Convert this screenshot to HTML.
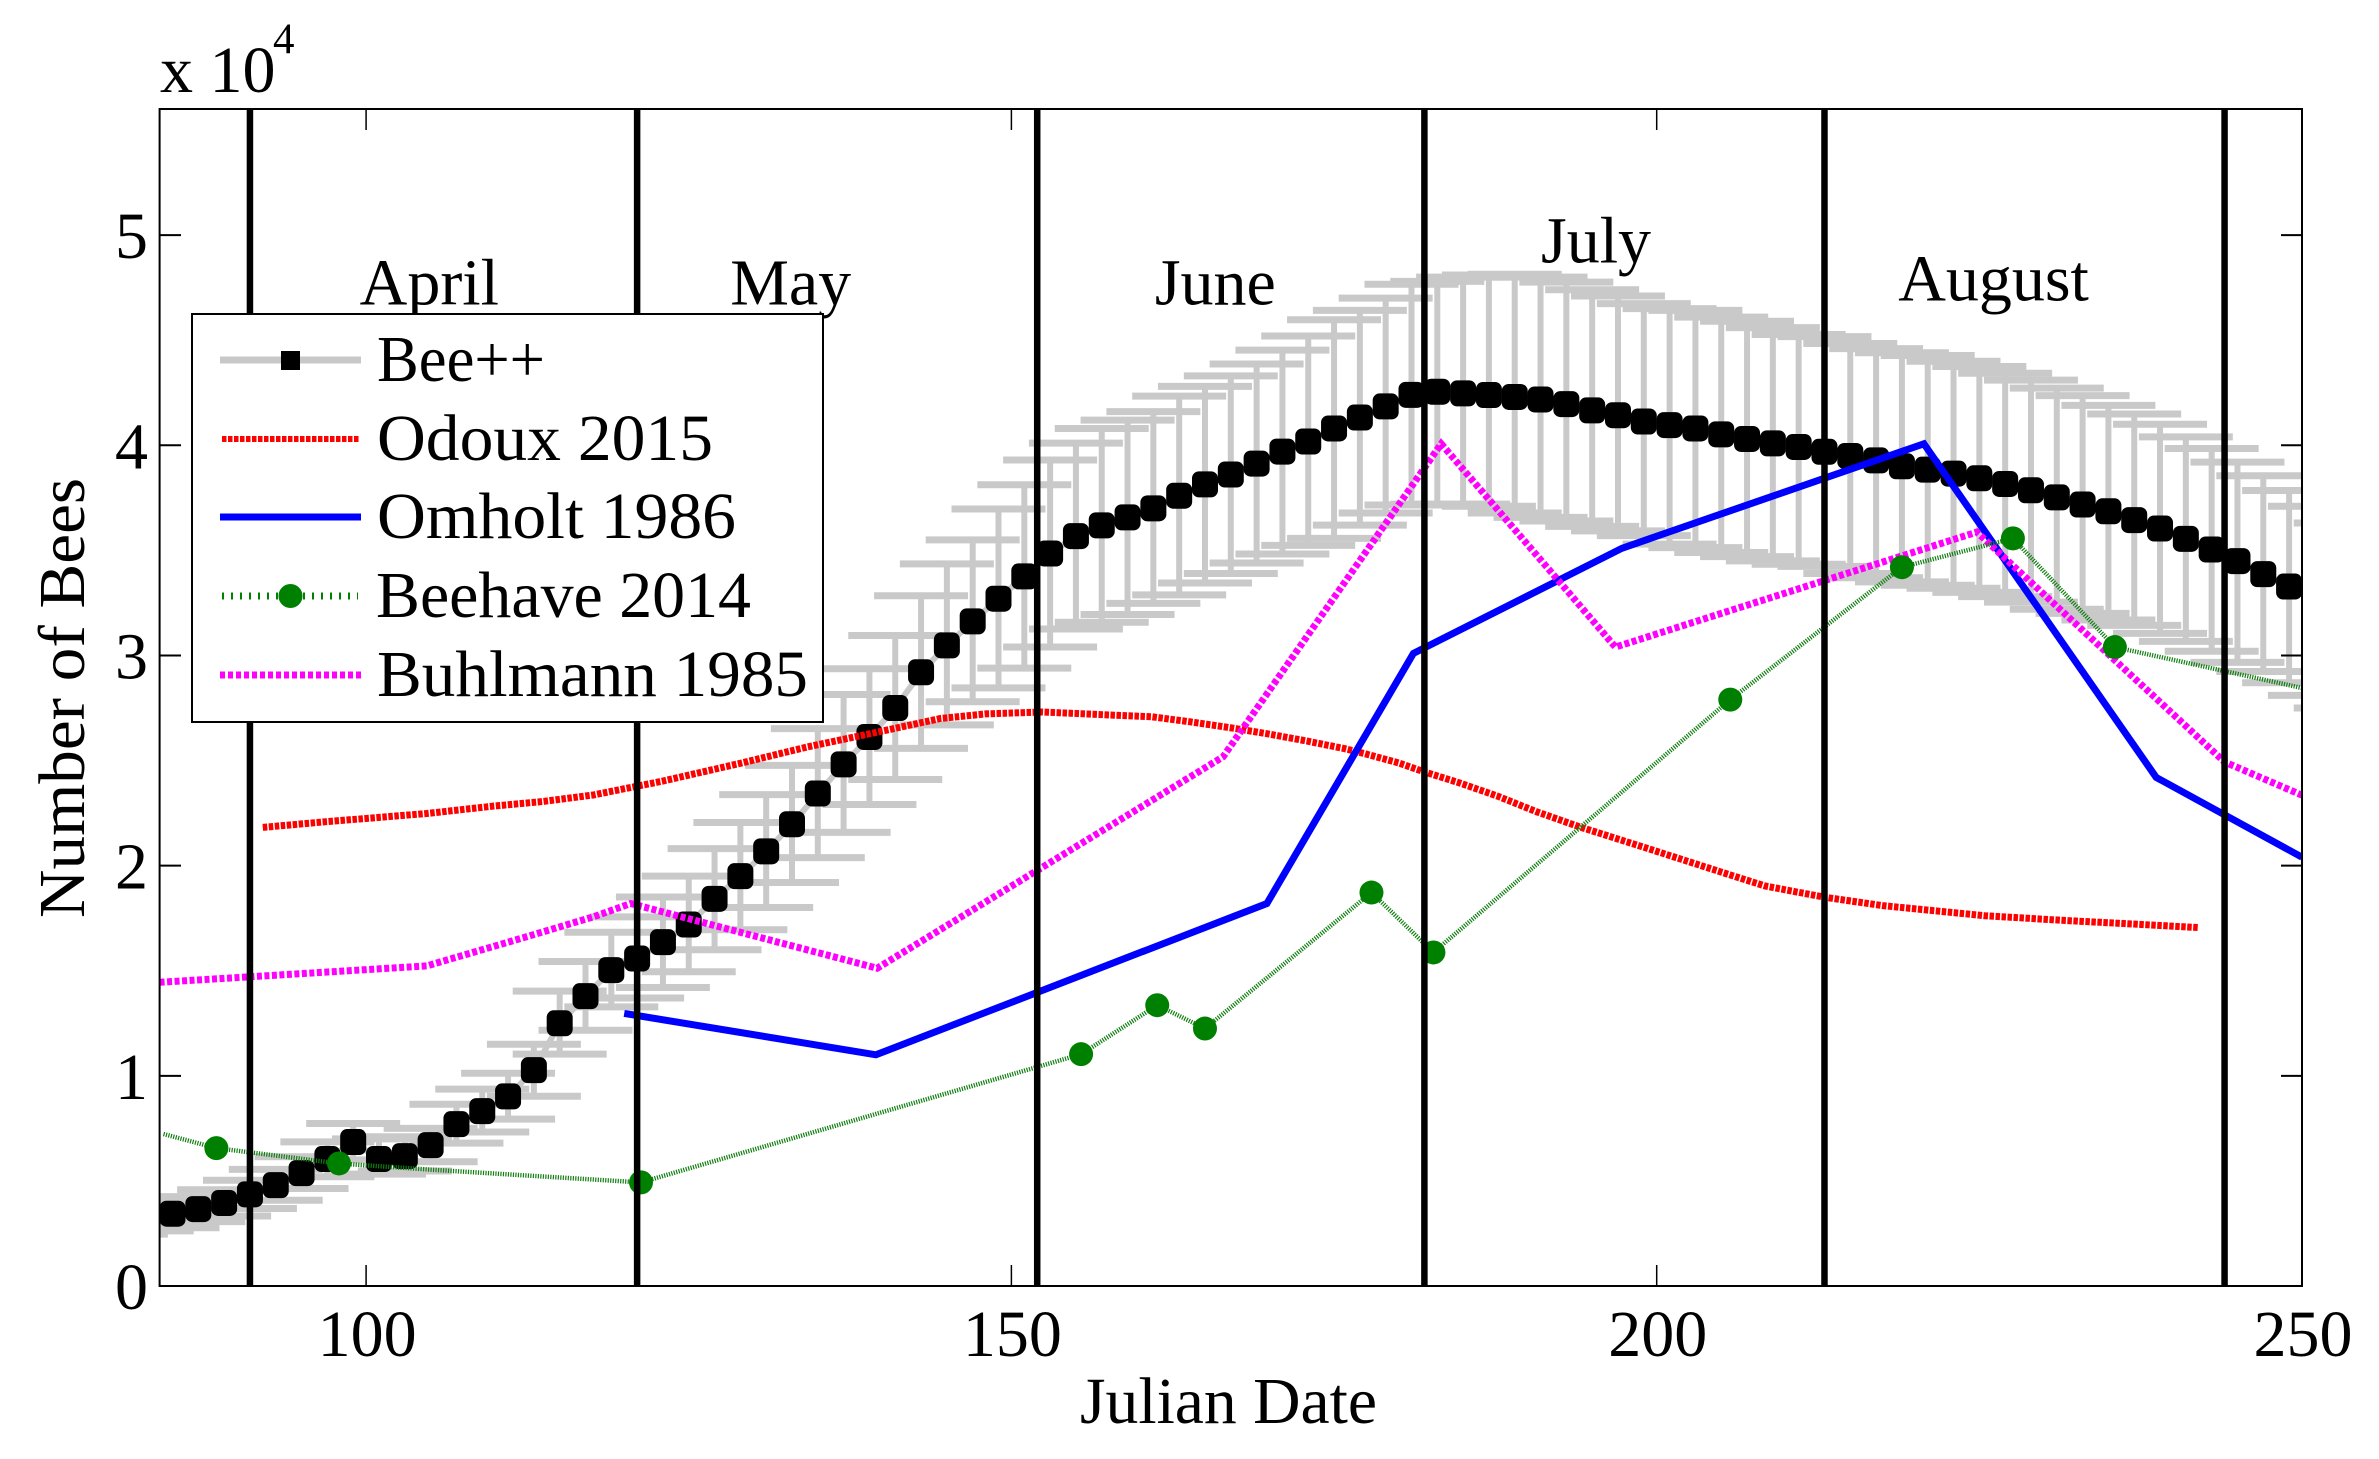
<!DOCTYPE html>
<html lang="en">
<head>
<meta charset="utf-8">
<title>Number of Bees by Julian Date</title>
<style>
html,body{margin:0;padding:0;background:#fff;}
svg{display:block;}
text{font-family:"Liberation Serif",serif;fill:#000;}
</style>
</head>
<body>
<svg id="chart" xmlns="http://www.w3.org/2000/svg" width="2379" height="1459" viewBox="0 0 2379 1459">
  <defs>
    <clipPath id="plot-clip"><rect x="159.6" y="109" width="2142.4" height="1177"/></clipPath>
  </defs>
  <rect x="0" y="0" width="2379" height="1459" fill="#fff"/>
  <g id="marks" clip-path="url(#plot-clip)"></g>
  <rect x="159.6" y="109" width="2142.4" height="1177" fill="none" stroke="#000" stroke-width="2"/>
  <g id="ticks"></g>
  <g id="month-labels" font-size="66"></g>
  <text x="160" y="92" font-size="66">x 10</text>
  <text x="273" y="53" font-size="43">4</text>
  <text x="1080" y="1423" font-size="66" textLength="297" lengthAdjust="spacingAndGlyphs">Julian Date</text>
  <text transform="translate(84,698) rotate(-90)" text-anchor="middle" font-size="66" textLength="440" lengthAdjust="spacingAndGlyphs">Number of Bees</text>

  <g>
    <rect x="192" y="314" width="631" height="408" fill="#fff" stroke="#000" stroke-width="2"/>
    <g>
      <line x1="220" y1="360" x2="361" y2="360" stroke="#c8c8c8" stroke-width="7"/>
      <rect x="281" y="351" width="19" height="19" fill="#000"/>
      <text x="377" y="381" font-size="66" textLength="168" lengthAdjust="spacingAndGlyphs">Bee++</text>
    </g>
    <g>
      <line x1="222" y1="439" x2="360" y2="439" stroke="#ff0000" stroke-width="6" stroke-dasharray="4.5 1.5"/>
      <text x="377" y="460" font-size="66" textLength="336" lengthAdjust="spacingAndGlyphs">Odoux 2015</text>
    </g>
    <g>
      <line x1="220" y1="517" x2="361" y2="517" stroke="#0000ff" stroke-width="7"/>
      <text x="377" y="538" font-size="66" textLength="359" lengthAdjust="spacingAndGlyphs">Omholt 1986</text>
    </g>
    <g>
      <line x1="222" y1="596" x2="358" y2="596" stroke="#008000" stroke-width="7" stroke-dasharray="2 7"/>
      <circle cx="290.5" cy="596" r="12" fill="#008000"/>
      <text x="376" y="617" font-size="66" textLength="375" lengthAdjust="spacingAndGlyphs">Beehave 2014</text>
    </g>
    <g>
      <line x1="220" y1="675" x2="361" y2="675" stroke="#ff00ff" stroke-width="7" stroke-dasharray="5 3"/>
      <text x="377" y="696" font-size="66" textLength="431" lengthAdjust="spacingAndGlyphs">Buhlmann 1985</text>
    </g>
  </g>
</svg>

<script>
var xTicks = [100, 150, 200, 250];
var yTicks = [0, 1, 2, 3, 4, 5];
var monthStarts = [91, 121, 152, 182, 213, 244];
var monthNames = ["April", "May", "June", "July", "August"];
var monthLabelDays = [104.9, 132.9, 165.8, 195.3, 226.1];
var monthLabelValues = [4.67, 4.67, 4.67, 4.87, 4.69];

var beeDays = [81,83,85,87,89,91,93,95,97,99,101,103,105,107,109,111,113,115,117,119,121,123,125,127,129,131,133,135,137,139,141,143,145,147,149,151,153,155,157,159,161,163,165,167,169,171,173,175,177,179,181,183,185,187,189,191,193,195,197,199,201,203,205,207,209,211,213,215,217,219,221,223,225,227,229,231,233,235,237,239,241,243,245,247,249,251,253];
var beeMean = [.30,.32,.344,.366,.395,.436,.48,.537,.604,.685,.604,.618,.67,.77,.832,.902,1.027,1.25,1.379,1.503,1.558,1.636,1.72,1.842,1.95,2.068,2.197,2.343,2.482,2.612,2.75,2.92,3.048,3.162,3.27,3.376,3.485,3.568,3.619,3.657,3.70,3.76,3.814,3.861,3.913,3.97,4.018,4.08,4.132,4.185,4.24,4.255,4.247,4.239,4.23,4.218,4.196,4.166,4.143,4.113,4.096,4.08,4.052,4.03,4.009,3.992,3.969,3.949,3.928,3.90,3.884,3.865,3.843,3.816,3.786,3.752,3.718,3.686,3.644,3.604,3.555,3.504,3.449,3.387,3.328,3.27,3.20];
var beeUpper = [.37,.39,.409,.425,.458,.503,.555,.615,.686,.773,.70,.71,.75,.865,.937,1.012,1.15,1.403,1.544,1.683,1.756,1.851,1.95,2.081,2.205,2.338,2.477,2.652,2.814,2.937,3.095,3.284,3.436,3.55,3.697,3.812,3.93,4.01,4.08,4.12,4.16,4.234,4.28,4.33,4.387,4.453,4.52,4.597,4.642,4.70,4.766,4.78,4.80,4.81,4.814,4.80,4.776,4.74,4.71,4.674,4.65,4.642,4.61,4.59,4.56,4.527,4.517,4.484,4.46,4.44,4.427,4.40,4.375,4.343,4.31,4.272,4.236,4.19,4.149,4.10,4.04,3.985,3.92,3.855,3.785,3.71,3.63];
var beeLower = [.247,.262,.277,.306,.333,.369,.408,.464,.52,.60,.532,.547,.591,.68,.733,.794,.903,1.103,1.217,1.328,1.37,1.42,1.495,1.60,1.695,1.801,1.92,2.038,2.158,2.291,2.41,2.558,2.67,2.78,2.846,2.94,3.04,3.126,3.158,3.195,3.248,3.288,3.345,3.39,3.44,3.483,3.524,3.557,3.62,3.678,3.716,3.72,3.72,3.71,3.678,3.657,3.64,3.614,3.593,3.57,3.53,3.513,3.49,3.47,3.45,3.434,3.424,3.39,3.37,3.35,3.334,3.32,3.30,3.28,3.254,3.22,3.20,3.169,3.143,3.105,3.067,3.02,2.967,2.924,2.87,2.81,2.75];

var odouxDays = [92,96.9,104.7,109.8,113.7,117.6,121,122.8,129,134.2,139.3,144.5,148,152.4,158,160.9,163.9,166.9,169.8,172.8,175.8,177.3,180,182,184.7,187.7,190.7,194.1,199.7,206,208.4,213,217.5,225.4,231.4,237.3,242];
var odouxValues = [2.182,2.209,2.248,2.283,2.305,2.336,2.378,2.40,2.487,2.565,2.631,2.70,2.722,2.731,2.716,2.708,2.684,2.657,2.628,2.594,2.557,2.534,2.489,2.446,2.394,2.33,2.256,2.183,2.074,1.95,1.903,1.85,1.81,1.762,1.74,1.721,1.705];

var omholtDays = [120,139.5,169.8,181.15,197.3,220.7,238.7,250];
var omholtValues = [1.297,1.10,1.82,3.01,3.51,4.007,2.42,2.04];

var beehaveLineDays = [84.3,88.4,97.9,104.7,110,121.3,155.4,161.3,165,177.9,182.7,205.7,219,227.6,235.5,250];
var beehaveLineValues = [.723,.656,.583,.555,.535,.493,1.103,1.336,1.225,1.872,1.587,2.79,3.42,3.557,3.04,2.845];
var beehaveMarkerDays = [88.4,97.9,121.3,155.4,161.3,165,177.9,182.7,205.7,219,227.6,235.5];
var beehaveMarkerValues = [.656,.583,.493,1.103,1.336,1.225,1.872,1.587,2.79,3.42,3.557,3.04];

var buhlmannDays = [84,91,104.7,112.4,117.6,120.5,139.6,166.4,183.3,196.8,224.8,244,250];
var buhlmannValues = [1.445,1.471,1.523,1.661,1.756,1.82,1.512,2.518,4.007,3.04,3.587,2.493,2.335];

var xDomainMin = 84, xDomainMax = 250, yDomainMax = 5.6;
var capDays = 3.64;

function sx(d) { return 159.6 + (d - xDomainMin) / (xDomainMax - xDomainMin) * 2142.4; }
function sy(v) { return 1286 - v / yDomainMax * 1177; }

var NS = "http://www.w3.org/2000/svg";
var marks = document.getElementById("marks");
var ticks = document.getElementById("ticks");
var months = document.getElementById("month-labels");
var svg = document.getElementById("chart");

function make(tag, parent, attrs) {
  var el = document.createElementNS(NS, tag);
  for (var k in attrs) el.setAttribute(k, attrs[k]);
  parent.appendChild(el);
  return el;
}
function pointsOf(xs, ys) {
  var out = [];
  for (var i = 0; i < xs.length; i++) out.push(sx(xs[i]).toFixed(1) + "," + sy(ys[i]).toFixed(1));
  return out.join(" ");
}

/* Bee++ error bars */
var errGroup = make("g", marks, {stroke: "#c9c9c9", fill: "none"});


var beeLine = make("polyline", errGroup, {points: pointsOf(beeDays, beeMean), "stroke-width": 6});


beeDays.forEach(function (d, i) {
  var stem = make("line", errGroup, {x1: sx(d), x2: sx(d), y1: sy(beeLower[i]), y2: sy(beeUpper[i]), "stroke-width": 6});
  
  
  var capTop = make("line", errGroup, {x1: sx(d - capDays), x2: sx(d + capDays), y1: sy(beeUpper[i]), y2: sy(beeUpper[i]), "stroke-width": 7});
  
  
  var capBottom = make("line", errGroup, {x1: sx(d - capDays), x2: sx(d + capDays), y1: sy(beeLower[i]), y2: sy(beeLower[i]), "stroke-width": 7});
  
  
});

/* Bee++ markers */
beeDays.forEach(function (d, i) {
  var m = make("rect", marks, {x: sx(d) - 13, y: sy(beeMean[i]) - 13, width: 26, height: 26, rx: 7, ry: 7, fill: "#000"});
  
  
});

/* Odoux */
var odouxLine = make("polyline", marks, {points: pointsOf(odouxDays, odouxValues), fill: "none", stroke: "#ff0000", "stroke-width": 7, "stroke-dasharray": "4.5 1.5"});



/* Omholt */
var omholtLine = make("polyline", marks, {points: pointsOf(omholtDays, omholtValues), fill: "none", stroke: "#0000ff", "stroke-width": 7});



/* Buhlmann */
var buhlmannLine = make("polyline", marks, {points: pointsOf(buhlmannDays, buhlmannValues), fill: "none", stroke: "#ff00ff", "stroke-width": 7, "stroke-dasharray": "5 2.5"});



/* Beehave */
var beehaveLine = make("polyline", marks, {points: pointsOf(beehaveLineDays, beehaveLineValues), fill: "none", stroke: "#107f10", "stroke-width": 4.5, "stroke-dasharray": "1.2 1.3"});


beehaveMarkerDays.forEach(function (d, i) {
  var c = make("circle", marks, {cx: sx(d), cy: sy(beehaveMarkerValues[i]), r: 12, fill: "#008000"});
  
  
});

/* Month boundaries */
monthStarts.forEach(function (d) {
  var l = make("line", marks, {x1: sx(d), x2: sx(d), y1: 109, y2: 1286, stroke: "#000", "stroke-width": 6.5});
  
  
});

/* Month labels */
monthNames.forEach(function (name, i) {
  var t = make("text", months, {x: sx(monthLabelDays[i]), y: sy(monthLabelValues[i]) , "text-anchor": "middle"});
  t.textContent = name;
  
  
});

/* Ticks */
xTicks.forEach(function (d) {
  var a = make("line", ticks, {x1: sx(d), x2: sx(d), y1: 1286, y2: 1265, stroke: "#000", "stroke-width": 1.5});
  
  
  var b = make("line", ticks, {x1: sx(d), x2: sx(d), y1: 109, y2: 130, stroke: "#000", "stroke-width": 1.5});
  
  
  var t = make("text", ticks, {x: sx(d) + 1, y: 1356, "font-size": 66, "text-anchor": "middle"});
  t.textContent = d;
  
  
});
yTicks.forEach(function (v) {
  var a = make("line", ticks, {x1: 159.6, x2: 181, y1: sy(v), y2: sy(v), stroke: "#000", "stroke-width": 2});
  
  
  var b = make("line", ticks, {x1: 2281, x2: 2302, y1: sy(v), y2: sy(v), stroke: "#000", "stroke-width": 2});
  
  
  var t = make("text", ticks, {x: 148, y: sy(v) + 23, "font-size": 66, "text-anchor": "end"});
  t.textContent = v;
  
  
});
</script>
</body>
</html>
